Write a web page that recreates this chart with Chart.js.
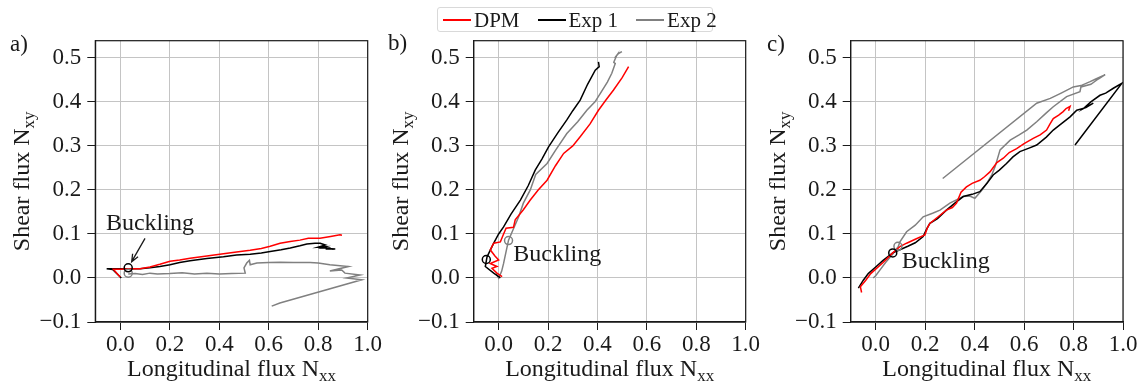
<!DOCTYPE html>
<html lang="en">
<head>
<meta charset="UTF-8">
<title>Shear flux vs longitudinal flux</title>
<script src="https://cdn.jsdelivr.net/npm/chart.js"></script>
<style>
  body { margin: 0; background: #fff; }
  #fig { position: relative; width: 1145px; height: 388px; overflow: hidden; font-family: "Liberation Serif", "Times New Roman", serif; color: #1a1a1a; }
  .panel { position: absolute; top: 0; height: 388px; }
  .tag { position: absolute; font-size: 23px; line-height: 23px; }
  #legend { position: absolute; left: 437px; top: 7px; width: 274px; height: 23px; border: 1px solid #d9d9d9; border-radius: 3px;
            display: flex; align-items: center; font-size: 21px; line-height: 22px; background: #fff; white-space: nowrap; }
  #legend .item { display: flex; align-items: center; margin-left: 5px; margin-right: 13px; }
  #legend .swatch { display: inline-block; width: 28px; height: 2px; margin-right: 3px; }
</style>
</head>
<body>
<div id="fig">
  <div class="panel" style="left:0;width:395px"><canvas id="chartA"></canvas></div>
  <div class="panel" style="left:375px;width:400px"><canvas id="chartB"></canvas></div>
  <div class="panel" style="left:755px;width:390px"><canvas id="chartC"></canvas></div>
  <div class="tag" style="left:10px;top:32px">a)</div>
  <div class="tag" style="left:388px;top:31px">b)</div>
  <div class="tag" style="left:767px;top:32px">c)</div>
  <div id="legend"></div>
</div>

<script>
// axis ticks
const xTicks = [0.0, 0.2, 0.4, 0.6, 0.8, 1.0];
const yTicks = [-0.1, 0.0, 0.1, 0.2, 0.3, 0.4, 0.5];
const seriesNames = ['DPM', 'Exp 1', 'Exp 2'];
const seriesColors = ['#ff0000', '#000000', '#808080'];

// a) series [Nxx, Nxy]
const aDpm = [[0.0,0.002],[-0.014,0.011],[-0.028,0.02],[0.0,0.02],[0.036,0.021],[0.08,0.021],[0.12,0.025],[0.16,0.031],[0.201,0.038],[0.24,0.041],[0.282,0.045],[0.35,0.050],[0.417,0.055],[0.47,0.059],[0.525,0.063],[0.57,0.067],[0.606,0.072],[0.646,0.079],[0.687,0.083],[0.726,0.086],[0.76,0.090],[0.807,0.090],[0.85,0.094],[0.888,0.098],[0.896,0.097]];
const aExp1 = [[0.004,0.0],[-0.03,0.019],[-0.055,0.021],[0.0,0.021],[0.036,0.021],[0.08,0.021],[0.12,0.023],[0.16,0.026],[0.201,0.030],[0.24,0.035],[0.282,0.039],[0.35,0.044],[0.417,0.048],[0.47,0.052],[0.525,0.054],[0.57,0.057],[0.606,0.060],[0.65,0.064],[0.687,0.068],[0.726,0.073],[0.754,0.077],[0.787,0.079],[0.808,0.079],[0.829,0.075],[0.80,0.070],[0.83,0.071],[0.815,0.068],[0.85,0.068],[0.83,0.066],[0.869,0.066],[0.84,0.067],[0.862,0.065]];
const aExp2 = [[0.032,0.009],[0.06,0.010],[0.09,0.008],[0.12,0.011],[0.15,0.009],[0.2,0.010],[0.25,0.012],[0.3,0.009],[0.35,0.011],[0.4,0.009],[0.45,0.010],[0.505,0.011],[0.500,0.023],[0.511,0.034],[0.522,0.040],[0.525,0.030],[0.552,0.034],[0.6,0.035],[0.646,0.036],[0.7,0.035],[0.767,0.035],[0.8,0.034],[0.847,0.030],[0.922,0.026],[0.847,0.016],[0.895,0.018],[0.908,0.011],[0.969,0.007],[0.915,0.0],[0.976,-0.004],[0.645,-0.057],[0.612,-0.064]];
const aBuckle1 = [[0.032,0.023]];
const aBuckle2 = [[0.032,0.011]];

// b)
const bDpm = [[0.014,0.003],[-0.007,0.011],[-0.027,0.022],[-0.007,0.026],[-0.034,0.033],[0.0,0.041],[-0.015,0.05],[-0.034,0.064],[-0.02,0.079],[0.007,0.082],[0.02,0.1],[0.03,0.113],[0.06,0.115],[0.067,0.132],[0.1,0.155],[0.128,0.177],[0.16,0.2],[0.196,0.222],[0.23,0.255],[0.263,0.283],[0.3,0.3],[0.330,0.321],[0.37,0.35],[0.404,0.381],[0.435,0.405],[0.465,0.427],[0.5,0.455],[0.526,0.480]];
const bExp1 = [[0.007,0.0],[-0.02,0.011],[-0.054,0.026],[-0.047,0.048],[-0.02,0.079],[0.0,0.1],[0.02,0.116],[0.05,0.145],[0.088,0.177],[0.12,0.21],[0.148,0.245],[0.175,0.27],[0.202,0.298],[0.24,0.33],[0.276,0.359],[0.30,0.38],[0.33,0.404],[0.36,0.44],[0.391,0.472],[0.407,0.480],[0.404,0.491]];
const bExp2 = [[-0.01,0.01],[0.0,0.0],[0.012,0.015],[0.020,0.033],[0.03,0.06],[0.040,0.086],[0.06,0.112],[0.081,0.139],[0.1,0.17],[0.128,0.200],[0.15,0.235],[0.196,0.260],[0.23,0.29],[0.276,0.328],[0.32,0.355],[0.357,0.381],[0.39,0.40],[0.411,0.419],[0.44,0.445],[0.458,0.465],[0.472,0.487],[0.466,0.49],[0.478,0.506],[0.47,0.50],[0.485,0.51],[0.499,0.514]];
const bBuckle1 = [[-0.05,0.042]];
const bBuckle2 = [[0.04,0.085]];

// c)
const cDpm = [[-0.057,-0.033],[-0.062,-0.02],[-0.04,-0.005],[-0.02,0.01],[0.0,0.02],[0.03,0.035],[0.069,0.057],[0.1,0.072],[0.125,0.079],[0.16,0.088],[0.199,0.098],[0.21,0.115],[0.219,0.124],[0.25,0.138],[0.286,0.154],[0.31,0.16],[0.327,0.170],[0.345,0.195],[0.367,0.207],[0.39,0.215],[0.421,0.222],[0.44,0.23],[0.462,0.241],[0.49,0.262],[0.516,0.272],[0.54,0.285],[0.570,0.294],[0.60,0.305],[0.637,0.317],[0.665,0.325],[0.691,0.336],[0.705,0.35],[0.718,0.362],[0.74,0.37],[0.758,0.378],[0.77,0.385],[0.786,0.390],[0.78,0.38]];
const cExp1 = [[-0.070,-0.023],[-0.05,-0.005],[-0.03,0.01],[0.0,0.025],[0.03,0.04],[0.069,0.057],[0.098,0.064],[0.13,0.072],[0.16,0.08],[0.192,0.094],[0.205,0.11],[0.219,0.124],[0.25,0.135],[0.286,0.154],[0.32,0.17],[0.354,0.185],[0.39,0.19],[0.421,0.196],[0.45,0.215],[0.475,0.234],[0.5,0.245],[0.529,0.260],[0.555,0.275],[0.583,0.287],[0.62,0.295],[0.651,0.302],[0.69,0.32],[0.718,0.336],[0.75,0.35],[0.786,0.366],[0.813,0.381],[0.85,0.387],[0.88,0.397],[0.84,0.385],[0.87,0.40],[0.907,0.415],[0.93,0.42],[0.961,0.431],[0.995,0.442],[0.806,0.302]];
const cExp2 = [[-0.01,0.0],[0.0,0.005],[0.02,0.02],[0.04,0.035],[0.07,0.055],[0.091,0.071],[0.098,0.082],[0.125,0.105],[0.16,0.12],[0.192,0.139],[0.23,0.147],[0.260,0.154],[0.300,0.170],[0.354,0.185],[0.38,0.186],[0.401,0.181],[0.43,0.2],[0.449,0.215],[0.47,0.235],[0.483,0.253],[0.503,0.291],[0.544,0.313],[0.58,0.325],[0.611,0.336],[0.651,0.355],[0.69,0.375],[0.718,0.389],[0.772,0.412],[0.826,0.423],[0.83,0.434],[0.87,0.44],[0.9,0.452],[0.928,0.462],[0.89,0.452],[0.867,0.446],[0.83,0.437],[0.799,0.434],[0.75,0.42],[0.706,0.408],[0.651,0.397],[0.271,0.226]];
const cBuckle1 = [[0.069,0.057]];
const cBuckle2 = [[0.09,0.072]];

const FONT = '"Liberation Serif", "Times New Roman", serif';
const INK = '#1a1a1a';

// legend
document.getElementById('legend').innerHTML = seriesNames.map((n, i) =>
  `<span class="item"><span class="swatch" style="background:${seriesColors[i]}"></span>${n}</span>`).join('');

const fmt = v => (v < 0 ? '\u2212' : '') + Math.abs(v).toFixed(1);
const pts = arr => arr.map(p => ({x: p[0], y: p[1]}));

function drawSub(ctx, main, sub, size) {
  const subSize = Math.round(size * 0.72);
  ctx.font = size + 'px ' + FONT;
  const w1 = ctx.measureText(main).width;
  ctx.font = subSize + 'px ' + FONT;
  const w2 = ctx.measureText(sub).width;
  const x0 = -(w1 + w2) / 2;
  ctx.textAlign = 'left';
  ctx.textBaseline = 'alphabetic';
  ctx.font = size + 'px ' + FONT;
  ctx.fillText(main, x0, 0);
  ctx.font = subSize + 'px ' + FONT;
  ctx.fillText(sub, x0 + w1, 5);
}

// frame, axis titles with subscripts, Buckling note
const decor = {
  id: 'decor',
  afterDraw(chart, args, opts) {
    const {ctx, chartArea: ca, scales: {x, y}} = chart;
    ctx.save();
    ctx.strokeStyle = INK;
    ctx.lineWidth = 1.2;
    ctx.strokeRect(ca.left, ca.top, ca.right - ca.left, ca.bottom - ca.top);
    ctx.fillStyle = INK;

    ctx.save();
    ctx.translate((ca.left + ca.right) / 2, ca.bottom + 54);
    drawSub(ctx, 'Longitudinal flux N', 'xx', 24);
    ctx.restore();

    ctx.save();
    ctx.translate(ca.left - 66, (ca.top + ca.bottom) / 2);
    ctx.rotate(-Math.PI / 2);
    drawSub(ctx, 'Shear flux N', 'xy', 24);
    ctx.restore();

    if (opts.note) {
      ctx.font = '24px ' + FONT;
      ctx.textAlign = 'left';
      ctx.textBaseline = 'alphabetic';
      ctx.fillText(opts.note.text, x.getPixelForValue(opts.note.at[0]), y.getPixelForValue(opts.note.at[1]));
      if (opts.note.arrow) {
        const [p0, p1] = opts.note.arrow;
        const x0 = x.getPixelForValue(p0[0]), y0 = y.getPixelForValue(p0[1]);
        const x1 = x.getPixelForValue(p1[0]), y1 = y.getPixelForValue(p1[1]);
        const ang = Math.atan2(y1 - y0, x1 - x0);
        ctx.strokeStyle = INK;
        ctx.lineWidth = 1.3;
        ctx.beginPath();
        ctx.moveTo(x0, y0);
        ctx.lineTo(x1, y1);
        ctx.moveTo(x1 - 8 * Math.cos(ang - 0.4), y1 - 8 * Math.sin(ang - 0.4));
        ctx.lineTo(x1, y1);
        ctx.lineTo(x1 - 8 * Math.cos(ang + 0.4), y1 - 8 * Math.sin(ang + 0.4));
        ctx.stroke();
      }
    }
    ctx.restore();
  }
};

function lineSet(data, i) {
  return { label: seriesNames[i], data: pts(data), showLine: true, borderColor: seriesColors[i],
           borderWidth: 1.5, pointRadius: 0, fill: false, tension: 0 };
}
function markSet(data, i) {
  return { label: seriesNames[i] + ' buckling', data: pts(data), showLine: false, pointRadius: 4,
           pointStyle: 'circle', borderColor: seriesColors[i], borderWidth: 1.5, backgroundColor: 'rgba(0,0,0,0)' };
}

function makeChart(id, series, marks, yWidth, padRight, note) {
  const tickFont = { family: FONT, size: 23 };
  new Chart(document.getElementById(id), {
    type: 'scatter',
    data: {
      datasets: [markSet(marks[0], 1), markSet(marks[1], 2),
                 lineSet(series[0], 0), lineSet(series[1], 1), lineSet(series[2], 2)]
    },
    options: {
      responsive: true,
      maintainAspectRatio: false,
      animation: false,
      devicePixelRatio: 1,
      layout: { padding: { top: 40.7, right: padRight, bottom: 0, left: 0 } },
      plugins: { legend: { display: false }, tooltip: { enabled: false }, decor: { note } },
      scales: {
        x: {
          type: 'linear', min: -0.101, max: 1.0,
          afterBuildTicks: s => { s.ticks = xTicks.map(v => ({ value: v })); },
          afterFit: s => { s.height = 66; },
          grid: { color: '#c4c4c4', lineWidth: 1, tickColor: INK, tickLength: 8, tickWidth: 1 },
          border: { color: INK, width: 1.2 },
          ticks: { color: INK, font: tickFont, padding: 1, maxRotation: 0, autoSkip: false, callback: fmt }
        },
        y: {
          type: 'linear', min: -0.1, max: 0.539,
          afterBuildTicks: s => { s.ticks = yTicks.map(v => ({ value: v })); },
          afterFit: s => { s.width = yWidth; },
          grid: { color: '#c4c4c4', lineWidth: 1, tickColor: INK, tickLength: 8, tickWidth: 1 },
          border: { color: INK, width: 1.2 },
          ticks: { color: INK, font: tickFont, padding: 6, autoSkip: false, callback: fmt }
        }
      }
    },
    plugins: [decor]
  });
}

makeChart('chartA', [aDpm, aExp1, aExp2], [aBuckle1, aBuckle2], 95.3, 27.3,
  { text: 'Buckling', at: [-0.058, 0.110], arrow: [[0.1, 0.09], [0.046, 0.037]] });
makeChart('chartB', [bDpm, bExp1, bExp2], [bBuckle1, bBuckle2], 98.7, 29.3,
  { text: 'Buckling', at: [0.059, 0.039] });
makeChart('chartC', [cDpm, cExp1, cExp2], [cBuckle1, cBuckle2], 95.7, 22,
  { text: 'Buckling', at: [0.105, 0.023] });
</script>
</body>
</html>
